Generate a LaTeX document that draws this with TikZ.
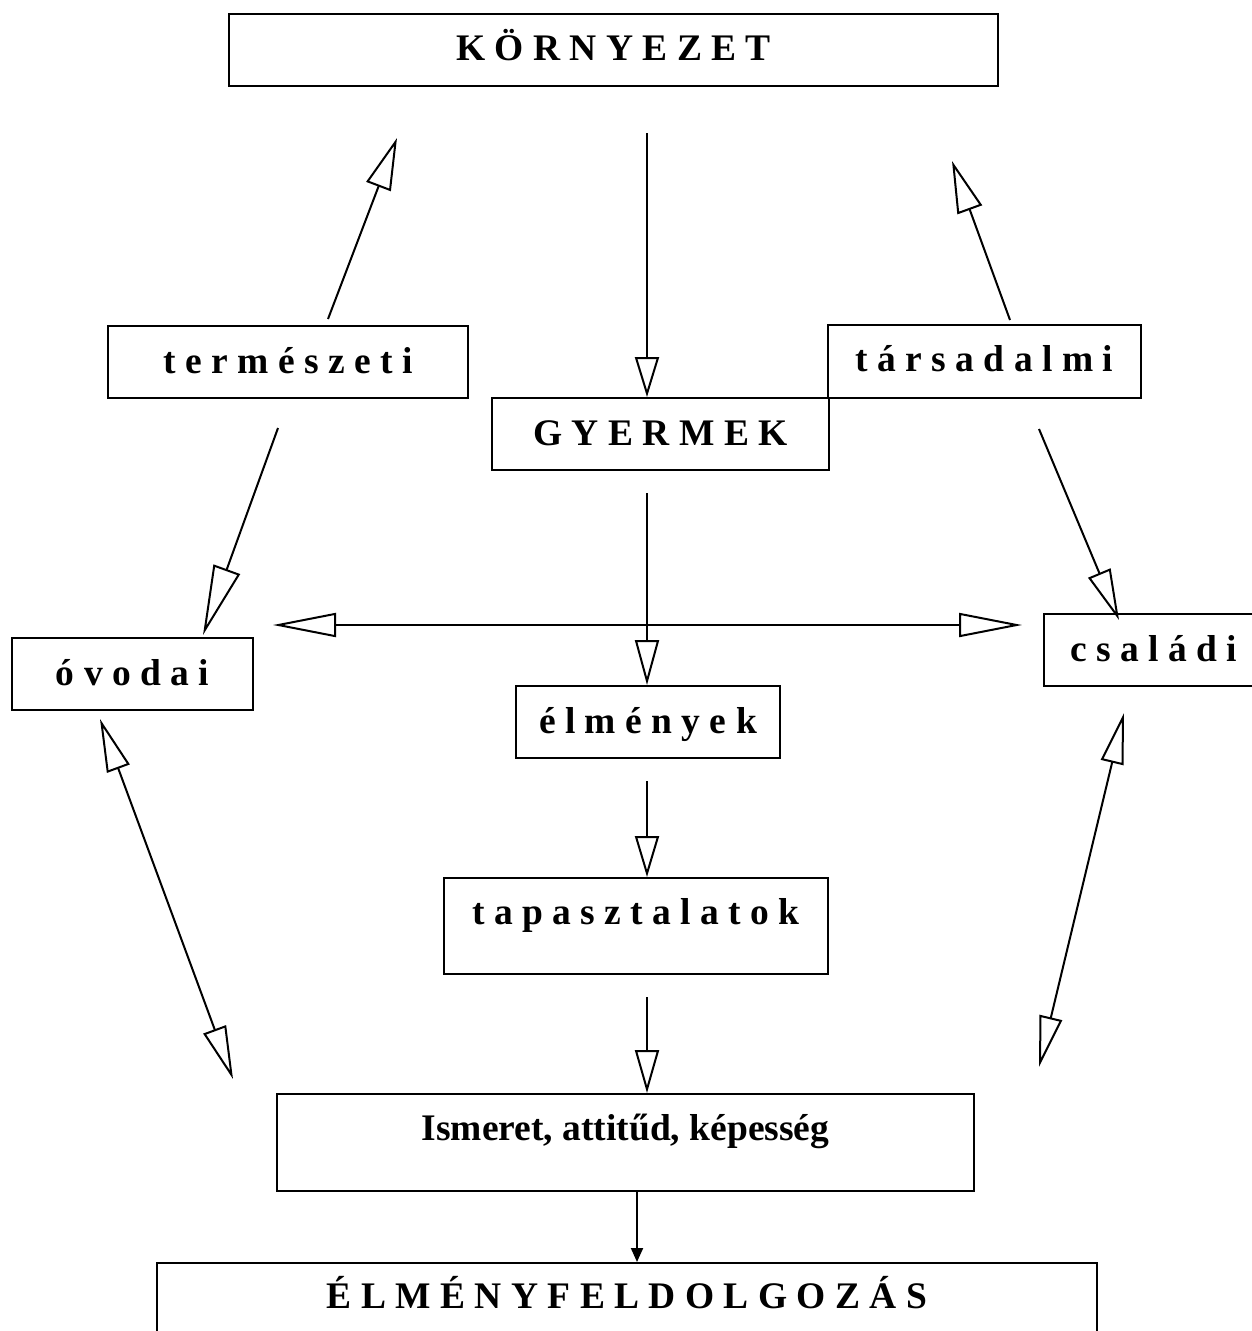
\documentclass[tikz,border=0pt]{standalone}
\usepackage{fontspec}
\setmainfont{Liberation Serif}
\usetikzlibrary{arrows.meta}
\begin{document}
\begin{tikzpicture}[x=1pt,y=-1pt,
  txtbox/.style={draw, line width=2pt, inner sep=0pt, anchor=north west,
    font=\fontsize{37.5}{40}\selectfont\bfseries},
  oarr/.style 2 args={line width=2pt, -{Triangle[open, length=#1, width=#2]}},
  darr/.style 2 args={line width=2pt, {Triangle[open, length=#1, width=#2]}-{Triangle[open, length=#1, width=#2]}},
  farr/.style={line width=2pt, -{Triangle[length=14pt, width=12pt]}}]
\clip (0,0) rectangle (1252,1331);
% boxes
\node[txtbox, minimum width=769pt, text height=46pt, text depth=26pt] (env) at (228,13) {K Ö R N Y E Z E T};
\node[txtbox, minimum width=360pt, text height=47pt, text depth=25pt] (term) at (107,325) {t e r m é s z e t i};
\node[txtbox, minimum width=313pt, text height=46pt, text depth=27pt] (tars) at (827,324) {t á r s a d a l m i};
\node[txtbox, minimum width=337pt, text height=47pt, text depth=25pt] (gyer) at (491,397) {G Y E R M E K};
\node[txtbox, minimum width=241pt, text height=47pt, text depth=25pt] (ovod) at (11,637) {ó v o d a i};
\node[txtbox, minimum width=219pt, text height=47pt, text depth=25pt] (csal) at (1043,613) {c s a l á d i};
\node[txtbox, minimum width=264pt, text height=47pt, text depth=25pt] (elm) at (515,685) {é l m é n y e k};
\node[txtbox, minimum width=384pt, text height=46pt, text depth=50pt] (tap) at (443,877) {t a p a s z t a l a t o k};
\node[txtbox, minimum width=697pt, text height=46pt, text depth=51pt] (ism) at (276,1093) {Ismeret, attitűd, képesség};
\node[txtbox, minimum width=940pt, text height=45pt, text depth=60pt] (feld) at (156,1262) {É L M É N Y F E L D O L G O Z Á S};
% arrow end points
\coordinate (a1s) at (328,319);  \coordinate (a1e) at (397,138);
\coordinate (a2s) at (647,133);  \coordinate (a2e) at (647,397);
\coordinate (a3s) at (1010,320); \coordinate (a3e) at (952,161);
\coordinate (a4s) at (278,428);  \coordinate (a4e) at (203,635);
\coordinate (a5s) at (1039,429); \coordinate (a5e) at (1119,620);
\coordinate (h1) at (273,625);   \coordinate (h2) at (1022,625);
\coordinate (a7s) at (647,493);  \coordinate (a7e) at (647,685);
\coordinate (a8s) at (647,781);  \coordinate (a8e) at (647,877);
\coordinate (a9s) at (647,997);  \coordinate (a9e) at (647,1093);
\coordinate (a10s) at (637,1190); \coordinate (a10e) at (637,1262);
\coordinate (d1a) at (100,719);  \coordinate (d1b) at (233,1079);
\coordinate (d2a) at (1124,713); \coordinate (d2b) at (1039,1067);
% arrows
\draw[oarr={52pt}{26pt}] (a1s) -- (a1e);
\draw[oarr={40pt}{24pt}] (a2s) -- (a2e);
\draw[oarr={52pt}{26pt}] (a3s) -- (a3e);
\draw[oarr={70pt}{28pt}] (a4s) -- (a4e);
\draw[oarr={51pt}{24pt}] (a5s) -- (a5e);
\draw[darr={63pt}{24pt}] (h1) -- (h2);
\draw[oarr={45pt}{24pt}] (a7s) -- (a7e);
\draw[oarr={41pt}{24pt}] (a8s) -- (a8e);
\draw[oarr={43pt}{24pt}] (a9s) -- (a9e);
\draw[farr] (a10s) -- (a10e);
\draw[darr={53pt}{24pt}] (d1a) -- (d1b);
\draw[darr={51pt}{23pt}] (d2a) -- (d2b);
\end{tikzpicture}
\end{document}
